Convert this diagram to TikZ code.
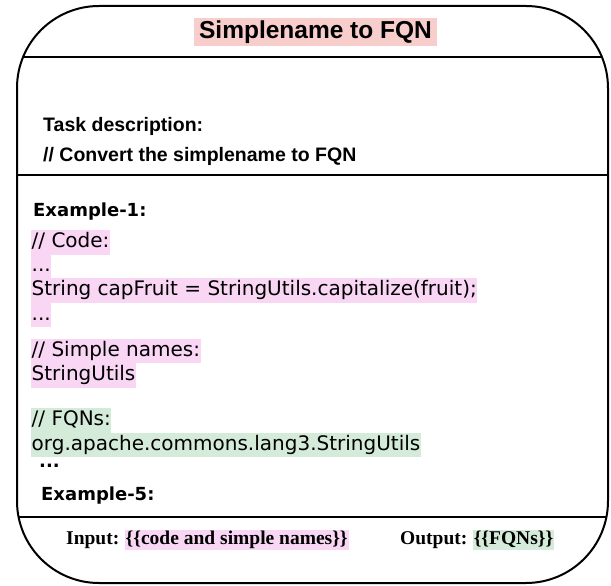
\documentclass[tikz,border=0pt]{standalone}
\usepackage{fontspec}
\setmainfont{Liberation Serif}
\setsansfont{Liberation Sans}
\newfontfamily\verdfont{DejaVu Sans}
\usetikzlibrary{positioning}
\definecolor{titlered}{HTML}{F8CECC}
\definecolor{codepink}{HTML}{F8D6F4}
\definecolor{fqngreen}{HTML}{D5EBDA}
\tikzset{
	frame/.style={line width=2pt, rounded corners=82pt},
	sepline/.style={line width=2pt},
	head/.style={font=\sffamily\bfseries\fontsize{19.5}{22}\selectfont, anchor=west, inner sep=0pt},
	exlabel/.style={font=\verdfont\bfseries\fontsize{18}{21}\selectfont, anchor=west, inner sep=0pt},
	codeline/.style={font=\verdfont\fontsize{20}{23}\selectfont, anchor=west, inner xsep=0.5pt, inner ysep=0pt, text height=15.5pt, text depth=5pt, minimum height=24.5pt},
	pinkline/.style={codeline, fill=codepink},
	greenline/.style={codeline, fill=fqngreen},
	io/.style={font=\rmfamily\bfseries\fontsize{19.5}{22}\selectfont, inner xsep=1pt, inner ysep=1pt, text height=13.5pt, text depth=4.5pt}
}
\begin{document}
\begin{tikzpicture}[x=1pt,y=-1pt]
	\useasboundingbox (0,0) rectangle (611,586);
	\begin{scope}
		\clip[rounded corners=82pt] (17,6) rectangle (608,583);
		\draw[sepline] (0,57) -- (611,57);
		\draw[sepline] (0,175) -- (611,175);
		\draw[sepline] (0,517) -- (611,517);
	\end{scope}
	\draw[frame] (17,6) rectangle (608,583);
	
	% title
	\node[fill=titlered, font=\sffamily\bfseries\fontsize{24.5}{28}\selectfont, minimum width=243pt, minimum height=28pt, inner sep=0pt] (title) at (315.5,32) {Simplename to FQN};
	
	% task
	\node[head] (task) at (43,126) {Task description:};
	\node[head] (convert) at (43,156) {// Convert the simplename to FQN};
	
	% example
	\node[exlabel] (ex1) at (33,212) {Example-1:};
	\node[pinkline] (code) at (31,242.5) {// Code:};
	\node[pinkline] (dotsa) at (31,266) {...};
	\node[pinkline] (stmt) at (31,290.5) {String capFruit = StringUtils.capitalize(fruit);};
	\node[pinkline] (dotsb) at (31,315) {...};
	\node[pinkline] (simple) at (31,351) {// Simple names:};
	\node[pinkline] (simplev) at (31,375.5) {StringUtils};
	\node[greenline] (fqn) at (31,420.5) {// FQNs:};
	\node[greenline] (fqnv) at (31,445) {org.apache.commons.lang3.StringUtils};
	\node[exlabel] (more) at (39,466) {...};
	\node[exlabel] (ex5) at (41,496) {Example-5:};
	
	% input / output
	\node[io, anchor=west, inner xsep=0pt] (inlbl) at (66,540) {Input:};
	\node[io, fill=codepink, right=5pt of inlbl] (inval) {\{\{code and simple names\}\}};
	\node[io, anchor=west, inner xsep=0pt] (outlbl) at (400,540) {Output:};
	\node[io, fill=fqngreen, right=5pt of outlbl] (outval) {\{\{FQNs\}\}};
\end{tikzpicture}
\end{document}
